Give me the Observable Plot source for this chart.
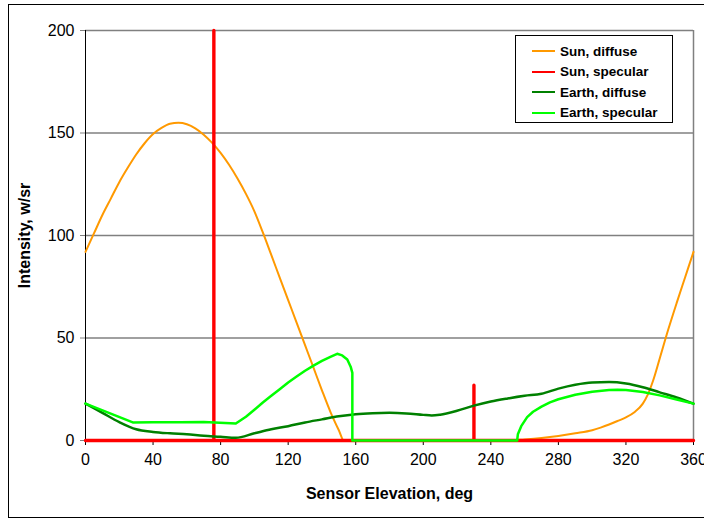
<!DOCTYPE html>
<html>
<head>
<meta charset="utf-8">
<script src="https://cdn.jsdelivr.net/npm/d3@7"></script>
<script src="https://cdn.jsdelivr.net/npm/@observablehq/plot@0.6"></script>
<style>
  html, body { margin: 0; padding: 0; background: #fff; overflow: hidden; }
  #wrap { position: relative; width: 704px; height: 518px; font-family: "Liberation Sans", Arial, sans-serif; }
  #frame { position: absolute; left: 8px; top: 4px; width: 720px; height: 514px; box-sizing: border-box; border: 1px solid #000; pointer-events: none; }
  #legend { position: absolute; left: 515px; top: 35px; width: 158px; height: 88px; box-sizing: border-box; border: 1px solid #000; background: #fff; }
  .item { position: absolute; left: 0; height: 20px; display: flex; align-items: center; font-weight: bold; font-size: 13.5px; color: #000; }
  .swatch { width: 23px; height: 2px; margin-left: 16px; margin-right: 5px; }
</style>
</head>
<body>
<div id="wrap">
  <div id="chart"></div>
  <div id="frame"></div>
  <div id="legend"></div>
</div>
<script>
// ---- data ----
const seriesNames = ["Sun, diffuse", "Sun, specular", "Earth, diffuse", "Earth, specular"];
const seriesColors = ["#FF9900", "#FF0000", "#008000", "#00FF00"];

const sunDiffuseDeg = [0,5,10,15,20,25,30,35,40,45,50,55,60,65,70,75,80,85,90,95,100,105,110,115,120,125,130,135,140,145,150,153,200,250,260,270,280,290,300,305,310,315,320,325,330,333,336,340,345,350,355,360];
const sunDiffuseVal = [92,101,110,118,126,133,139.5,145,149.5,152.5,154.5,155,154.3,152.3,149.2,145.2,140.3,134.5,127.8,120.3,111.8,101.5,90.5,79.5,68.5,57.5,46.5,35.5,24.5,14,5,0,0,0,0.5,1.2,2.2,3.5,5,6.3,7.8,9.5,11.3,13.8,18,22.5,29,40,54,67,79.5,92];

const sunSpecDeg = [0,76,76,76,230,230,230,360];
const sunSpecVal = [0,0,200,0,0,27,0,0];

const earthDiffuseDeg = [0,10,20,30,40,50,60,70,80,89,100,110,120,130,140,150,160,170,180,190,200,205,210,220,230,240,250,260,270,280,290,300,310,320,330,340,350,360];
const earthDiffuseVal = [18,13.5,9,5.5,4.2,3.5,3,2.3,1.8,1.3,3.5,5.5,7,8.8,10.3,11.8,12.8,13.3,13.5,13.2,12.5,12.2,12.6,14.5,17,19,20.5,21.8,22.8,25.3,27.2,28.3,28.5,27.8,26,23.5,21,18];

const earthSpecDeg = [0,28,40,56,70,89,95,100,105,110,115,120,125,130,135,140,145,149,152,155,157,158,158,200,255.6,256,258,261.5,265,270,275,280,290,300,310,315,320,330,340,350,360];
const earthSpecVal = [18,8.8,8.9,8.9,9,8.3,11.6,15,18.5,21.8,25,28.3,31.2,34,36.5,38.8,40.8,42.3,41.5,39.5,36,33,0,0,0,3,7,11.4,14,16.5,18.6,20.1,22.3,23.8,24.6,24.8,24.6,23.7,22,20,18];

const xTicks = [0,40,80,120,160,200,240,280,320,360];
const yTicks = [0,50,100,150,200];
const xTitle = "Sensor Elevation, deg";
const yTitle = "Intensity, w/sr";

// ---- build tables ----
const toRows = (xs, ys) => xs.map((x, i) => ({x, y: ys[i]}));
const sunDiffuse = toRows(sunDiffuseDeg, sunDiffuseVal);
const sunSpec = toRows(sunSpecDeg, sunSpecVal);
const earthDiffuse = toRows(earthDiffuseDeg, earthDiffuseVal);
const earthSpec = toRows(earthSpecDeg, earthSpecVal);

const font = "Liberation Sans, Arial, sans-serif";

const chart = Plot.plot({
  width: 704,
  height: 518,
  marginLeft: 85,
  marginRight: 11,
  marginTop: 30,
  marginBottom: 78,
  style: {fontFamily: font, fontSize: "16px", color: "#000", background: "transparent", overflow: "visible"},
  x: {domain: [0, 360], ticks: xTicks},
  y: {domain: [0, 200], ticks: yTicks},
  marks: [
    Plot.gridY(yTicks, {stroke: "#808080", strokeOpacity: 1, strokeWidth: 1.5}),
    Plot.ruleX([360], {stroke: "#808080", strokeWidth: 1.5}),
    Plot.ruleX([0], {stroke: "#000", strokeWidth: 1}),
    Plot.axisY(yTicks, {tickSize: 5, tickPadding: 6, stroke: "#808080", label: null, fontSize: 16, fill: "#000"}),
    Plot.axisX(xTicks, {tickSize: 5, tickPadding: 8, stroke: "#000", label: null, fontSize: 16, fill: "#000"}),
    Plot.text([yTitle], {frameAnchor: "left", dx: -61, rotate: -90, textAnchor: "middle", lineAnchor: "middle", fontWeight: "bold", fontSize: 16, fill: "#000"}),
    Plot.text([xTitle], {frameAnchor: "bottom", dy: 53, textAnchor: "middle", lineAnchor: "middle", fontWeight: "bold", fontSize: 16, fill: "#000"}),
    Plot.line(sunDiffuse, {x: "x", y: "y", stroke: seriesColors[0], strokeWidth: 2, curve: "monotone-x"}),
    Plot.line(sunSpec, {x: "x", y: "y", stroke: seriesColors[1], strokeWidth: 3.4}),
    Plot.line(earthDiffuse, {x: "x", y: "y", stroke: seriesColors[2], strokeWidth: 2.5, curve: "monotone-x"}),
    Plot.line(earthSpec, {x: "x", y: "y", stroke: seriesColors[3], strokeWidth: 2.5})
  ]
});
document.getElementById("chart").appendChild(chart);

// ---- legend ----
const legend = document.getElementById("legend");
seriesNames.forEach((name, i) => {
  const item = document.createElement("div");
  item.className = "item";
  item.style.top = (5 + i * 20.5) + "px";
  const sw = document.createElement("span");
  sw.className = "swatch";
  sw.style.background = seriesColors[i];
  const label = document.createElement("span");
  label.textContent = name;
  item.appendChild(sw);
  item.appendChild(label);
  legend.appendChild(item);
});
</script>
</body>
</html>
